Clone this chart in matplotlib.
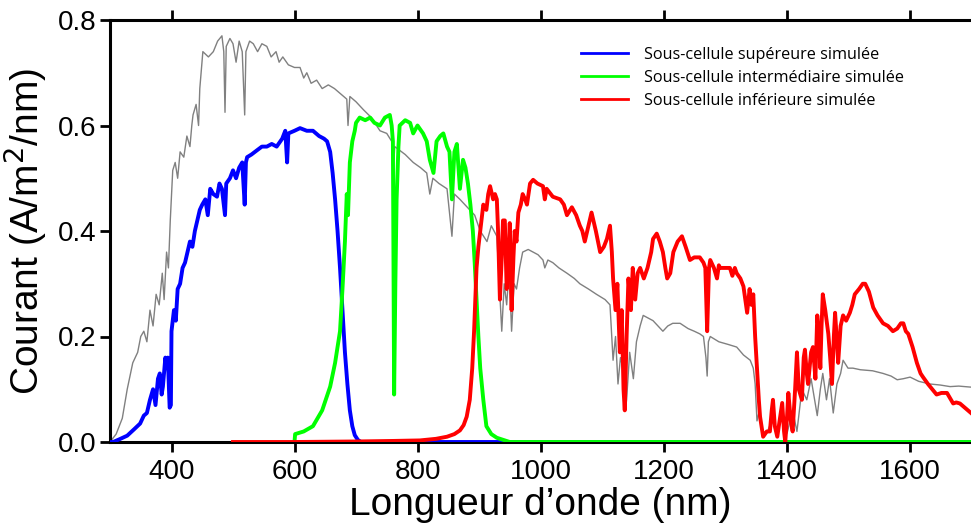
import matplotlib
matplotlib.use("Agg")
import matplotlib.pyplot as plt

# Gray reference spectrum (current density per nm)
gray_x = [300, 310, 320, 328, 337, 345, 350, 355, 360, 365, 370, 375, 380, 385, 388, 392, 395, 398,
          402, 406, 410, 414, 420, 425, 430, 433, 435, 440, 444, 446, 451, 460, 468, 475, 482, 485,
          487, 489, 495, 500, 505, 510, 515, 519, 521, 527, 533, 540, 547, 555, 562, 570, 575, 581,
          590, 600, 609, 615, 620, 627, 636, 645, 655, 665, 675, 685, 687, 690, 700, 712, 725, 739,
          750, 758, 760, 763, 771, 780, 793, 805, 815, 820, 825, 835, 848, 856, 860, 869, 877, 885,
          893, 902, 913, 920, 929, 937, 941, 945, 949, 953, 957, 961, 966, 971, 980, 988, 996, 1004,
          1007, 1012, 1020, 1030, 1043, 1055, 1064, 1078, 1091, 1105, 1113, 1118, 1122, 1126, 1130,
          1134, 1138, 1140, 1145, 1151, 1156, 1162, 1167, 1175, 1183, 1191, 1199, 1207, 1215, 1227,
          1240, 1250, 1259, 1265, 1269, 1271, 1273, 1276, 1290, 1305, 1319, 1330, 1341, 1346, 1349,
          1352, 1356, 1360, 1368, 1376, 1385, 1393, 1401, 1410, 1417, 1425, 1433, 1440, 1450, 1455,
          1459, 1465, 1470, 1476, 1482, 1488, 1492, 1500, 1508, 1520, 1540, 1557, 1570, 1580, 1590,
          1601, 1615, 1633, 1650, 1666, 1680, 1700]
gray_y = [0.0, 0.015, 0.045, 0.10, 0.15, 0.17, 0.20, 0.21, 0.19, 0.25, 0.22, 0.28, 0.26, 0.32, 0.27,
          0.36, 0.33, 0.42, 0.515, 0.53, 0.50, 0.55, 0.54, 0.58, 0.56, 0.60, 0.62, 0.64, 0.60, 0.67,
          0.74, 0.73, 0.74, 0.76, 0.77, 0.74, 0.625, 0.75, 0.765, 0.755, 0.72, 0.76, 0.74, 0.62, 0.74,
          0.76, 0.755, 0.74, 0.755, 0.75, 0.73, 0.74, 0.72, 0.73, 0.715, 0.71, 0.71, 0.69, 0.70, 0.68,
          0.686, 0.67, 0.677, 0.67, 0.66, 0.65, 0.60, 0.655, 0.645, 0.63, 0.615, 0.59, 0.585, 0.57,
          0.50, 0.56, 0.553, 0.545, 0.53, 0.52, 0.51, 0.47, 0.50, 0.49, 0.48, 0.39, 0.47, 0.46, 0.45,
          0.44, 0.43, 0.40, 0.38, 0.41, 0.39, 0.21, 0.30, 0.26, 0.33, 0.21, 0.30, 0.29, 0.33, 0.36,
          0.365, 0.36, 0.355, 0.345, 0.33, 0.345, 0.34, 0.33, 0.32, 0.31, 0.30, 0.29, 0.28, 0.27,
          0.26, 0.155, 0.20, 0.11, 0.16, 0.14, 0.06, 0.08, 0.17, 0.12, 0.19, 0.22, 0.24, 0.235, 0.23,
          0.22, 0.21, 0.22, 0.225, 0.225, 0.215, 0.21, 0.205, 0.20, 0.16, 0.125, 0.19, 0.20, 0.19,
          0.185, 0.18, 0.165, 0.155, 0.14, 0.11, 0.04, 0.06, 0.02, 0.017, 0.04, 0.02, 0.05, 0.017,
          0.06, 0.02, 0.10, 0.08, 0.12, 0.05, 0.10, 0.13, 0.08, 0.12, 0.055, 0.11, 0.13, 0.155, 0.14,
          0.14, 0.137, 0.135, 0.13, 0.125, 0.118, 0.12, 0.123, 0.115, 0.11, 0.108, 0.105, 0.106, 0.104]

# Top sub-cell
blue_x = [300, 305, 315, 328, 340, 349, 355, 360, 365, 370, 374, 378, 381, 384, 386, 390, 392, 394,
          397, 399, 400, 404, 407, 410, 414, 418, 422, 426, 430, 434, 438, 442, 446, 450, 455, 459,
          463, 468, 474, 478, 482, 487, 489, 495, 500, 505, 510, 515, 519, 521, 523, 530, 539, 547,
          555, 563, 571, 580, 585, 588, 590, 600, 609, 620, 630, 640, 648, 653, 658, 662, 666, 670,
          674, 678, 682, 686, 690, 694, 698, 703, 708, 1700]
blue_y = [0.0, 0.0, 0.005, 0.012, 0.025, 0.035, 0.05, 0.055, 0.08, 0.10, 0.07, 0.12, 0.13, 0.09,
          0.105, 0.16, 0.14, 0.16, 0.065, 0.07, 0.21, 0.25, 0.23, 0.29, 0.30, 0.33, 0.34, 0.36, 0.38,
          0.37, 0.40, 0.42, 0.44, 0.45, 0.46, 0.43, 0.48, 0.47, 0.465, 0.49, 0.48, 0.43, 0.49, 0.50,
          0.515, 0.50, 0.52, 0.53, 0.45, 0.53, 0.54, 0.545, 0.553, 0.56, 0.56, 0.565, 0.56, 0.575,
          0.59, 0.53, 0.585, 0.59, 0.595, 0.59, 0.59, 0.58, 0.575, 0.57, 0.55, 0.51, 0.46, 0.40, 0.33,
          0.25, 0.17, 0.11, 0.06, 0.03, 0.013, 0.004, 0.0, 0.0]

# Middle sub-cell
green_x = [600, 601, 615, 630, 645, 658, 666, 674, 678, 682, 685, 687, 690, 694, 698, 700, 706, 715,
           723, 730, 739, 747, 755, 758, 760, 762, 764, 766, 769, 771, 780, 788, 793, 800, 809, 815,
           820, 826, 831, 837, 842, 848, 852, 856, 860, 864, 869, 874, 878, 882, 886, 890, 893, 896,
           899, 902, 907, 912, 920, 929, 950, 1700]
green_y = [0.0, 0.015, 0.02, 0.03, 0.06, 0.105, 0.15, 0.21, 0.29, 0.38, 0.47, 0.43, 0.53, 0.57,
           0.59, 0.605, 0.615, 0.61, 0.615, 0.605, 0.60, 0.615, 0.62, 0.60, 0.57, 0.09, 0.30, 0.46,
           0.56, 0.60, 0.61, 0.605, 0.585, 0.60, 0.585, 0.57, 0.535, 0.51, 0.57, 0.58, 0.585, 0.56,
           0.55, 0.46, 0.55, 0.565, 0.48, 0.535, 0.52, 0.49, 0.45, 0.40, 0.34, 0.27, 0.20, 0.14, 0.08,
           0.03, 0.015, 0.008, 0.0, 0.0]

# Bottom sub-cell
red_x = [500, 600, 700, 760, 804, 830, 848, 860, 869, 875, 880, 885, 889, 892, 894, 896, 899, 902,
         905, 907, 912, 915, 918, 921, 923, 926, 929, 931, 934, 937, 939, 942, 945, 948, 950, 953,
         956, 958, 961, 964, 968, 971, 975, 978, 983, 988, 995, 1004, 1007, 1010, 1020, 1032, 1038,
         1043, 1051, 1058, 1064, 1068, 1072, 1078, 1083, 1090, 1097, 1103, 1108, 1113, 1116, 1118,
         1122, 1125, 1129, 1132, 1135, 1137, 1140, 1143, 1147, 1150, 1154, 1158, 1162, 1168, 1174,
         1180, 1183, 1189, 1194, 1199, 1203, 1206, 1211, 1216, 1223, 1230, 1236, 1243, 1250, 1259,
         1265, 1268, 1271, 1274, 1276, 1282, 1287, 1290, 1292, 1300, 1308, 1312, 1316, 1319, 1325,
         1330, 1333, 1336, 1340, 1343, 1346, 1349, 1352, 1355, 1357, 1362, 1368, 1373, 1376, 1378,
         1381, 1385, 1390, 1393, 1396, 1398, 1401, 1403, 1407, 1410, 1414, 1417, 1420, 1425, 1428,
         1430, 1433, 1435, 1440, 1443, 1447, 1450, 1453, 1455, 1457, 1459, 1463, 1468, 1471, 1474,
         1477, 1479, 1482, 1484, 1488, 1492, 1497, 1503, 1507, 1511, 1518, 1524, 1528, 1534, 1541,
         1548, 1557, 1565, 1573, 1580, 1586, 1590, 1594, 1598, 1605, 1612, 1618, 1622, 1630, 1637,
         1644, 1652, 1661, 1665, 1671, 1676, 1682, 1690, 1700]
red_y = [0.0, 0.0, 0.001, 0.002, 0.003, 0.006, 0.01, 0.015, 0.022, 0.032, 0.048, 0.08, 0.14, 0.21,
         0.27, 0.33, 0.37, 0.40, 0.43, 0.45, 0.44, 0.47, 0.485, 0.47, 0.46, 0.47, 0.46, 0.40, 0.27,
         0.35, 0.42, 0.42, 0.29, 0.35, 0.415, 0.25, 0.35, 0.40, 0.38, 0.435, 0.45, 0.47, 0.46, 0.45,
         0.49, 0.497, 0.49, 0.485, 0.46, 0.48, 0.465, 0.46, 0.45, 0.43, 0.445, 0.43, 0.41, 0.40, 0.38,
         0.41, 0.435, 0.40, 0.36, 0.37, 0.385, 0.41, 0.36, 0.31, 0.25, 0.30, 0.17, 0.25, 0.10, 0.06,
         0.20, 0.31, 0.25, 0.33, 0.27, 0.32, 0.33, 0.31, 0.33, 0.36, 0.385, 0.395, 0.38, 0.36, 0.33,
         0.31, 0.32, 0.36, 0.38, 0.39, 0.37, 0.345, 0.35, 0.35, 0.34, 0.33, 0.21, 0.33, 0.345, 0.33,
         0.31, 0.335, 0.33, 0.33, 0.33, 0.315, 0.33, 0.32, 0.31, 0.295, 0.27, 0.245, 0.29, 0.26, 0.28,
         0.20, 0.14, 0.08, 0.048, 0.01, 0.02, 0.02, 0.06, 0.08, 0.03, 0.01, 0.05, 0.074, 0.02, 0.0,
         0.05, 0.093, 0.04, 0.02, 0.10, 0.17, 0.10, 0.08, 0.16, 0.175, 0.13, 0.11, 0.17, 0.18, 0.12,
         0.24, 0.20, 0.14, 0.22, 0.28, 0.25, 0.205, 0.16, 0.11, 0.20, 0.245, 0.19, 0.15, 0.22, 0.24,
         0.23, 0.245, 0.26, 0.28, 0.29, 0.30, 0.30, 0.285, 0.255, 0.24, 0.225, 0.22, 0.21, 0.215,
         0.225, 0.225, 0.21, 0.205, 0.18, 0.15, 0.13, 0.123, 0.11, 0.10, 0.09, 0.093, 0.093, 0.085,
         0.073, 0.075, 0.073, 0.065, 0.055]

# faint extra series lying on the baseline
tan_x = [300, 600]
tan_y = [0.0, 0.0]

labels = ["Sous-cellule supéreure simulée",
          "Sous-cellule intermédiaire simulée",
          "Sous-cellule inférieure simulée"]

plt.rcParams['font.family'] = ['Liberation Sans', 'DejaVu Sans']

fig = plt.figure(figsize=(9.71, 5.29), dpi=100)
ax = fig.add_axes([110 / 971, 1 - 442 / 529, 861 / 971, 422 / 529])

ax.plot(tan_x, tan_y, color='#c8b48c', lw=1.2, zorder=1)
ax.plot(gray_x, gray_y, color='#808080', lw=1.0, zorder=2)
l1, = ax.plot(blue_x, blue_y, color='#0000ff', lw=2.8, zorder=3)
l2, = ax.plot(green_x, green_y, color='#00ff00', lw=2.8, zorder=3)
l3, = ax.plot(red_x, red_y, color='#ff0000', lw=2.8, zorder=4)

ax.set_xlim(300, 1700)
ax.set_ylim(0, 0.8)
ax.set_xticks([400, 600, 800, 1000, 1200, 1400, 1600])
ax.set_yticks([0.0, 0.2, 0.4, 0.6, 0.8])
ax.set_yticklabels(["0.0", "0.2", "0.4", "0.6", "0.8"])

for side in ['left', 'bottom', 'top']:
    ax.spines[side].set_linewidth(2.2)
ax.spines['right'].set_visible(False)
ax.tick_params(axis='x', which='both', direction='out', top=True, bottom=True,
               labeltop=False, length=7, width=2, labelsize=20, pad=5)
ax.tick_params(axis='y', direction='out', length=7, width=2, labelsize=20, pad=3)

ax.set_xlabel("Longueur d’onde (nm)", fontsize=28, labelpad=2)
ax.set_ylabel("Courant (A/m$^2$/nm)", fontsize=28, labelpad=6)

leg = fig.legend([l1, l2, l3], labels, loc='upper left',
                 bbox_to_anchor=(581 / 971, 1 - 47 / 529), frameon=False,
                 prop={'family': 'Open Sans', 'size': 11.7}, handlelength=2.9,
                 handletextpad=1.0, labelspacing=0.42, borderpad=0, borderaxespad=0)
for h in leg.legend_handles:
    h.set_linewidth(2)

fig.savefig("out.png", dpi=100)
